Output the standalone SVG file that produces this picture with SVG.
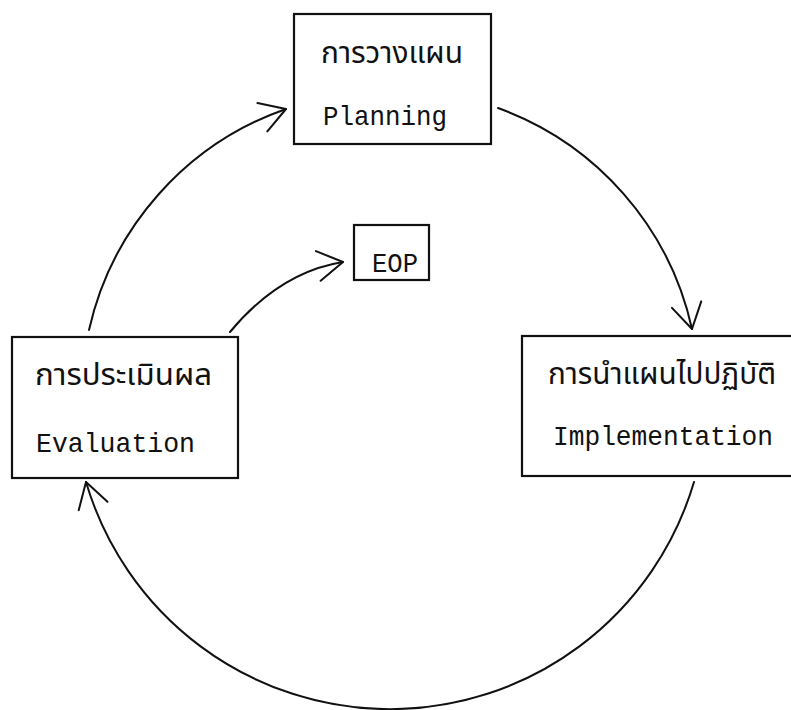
<svg xmlns="http://www.w3.org/2000/svg" width="791" height="710" viewBox="0 0 791 710">
<style>
.box{fill:none;stroke:#111;stroke-width:2.2}
.th{font-family:"Noto Sans Thai","Noto Sans Thai Looped","Loma","Garuda","Norasi","Tlwg Typo","Noto Sans",sans-serif;font-size:31px;fill:#111}
.en{font-family:"Liberation Mono","Courier New",monospace;font-size:28px;fill:#111}
.arc{fill:none;stroke:#111;stroke-width:2;stroke-linecap:round}
</style>
<defs>
<marker id="ah" markerUnits="userSpaceOnUse" viewBox="-30 -20 40 40" refX="0" refY="0" markerWidth="40" markerHeight="40" orient="auto" overflow="visible">
<path d="M -25 -15 L 0 0 L -25 15" fill="none" stroke="#111" stroke-width="2" stroke-linecap="round" stroke-linejoin="round"/>
</marker>
</defs>
<rect width="791" height="710" fill="#fff"/>
<g id="connectors">
<path class="arc" d="M 89 330 A 305 305 0 0 1 286 109" marker-end="url(#ah)"/>
<path class="arc" d="M 498 108 A 305 305 0 0 1 692 329" marker-end="url(#ah)"/>
<path class="arc" d="M 694 482 A 317 317 0 0 1 86 482" marker-end="url(#ah)"/>
<path class="arc" d="M 230 332 Q 280 272 343 262" marker-end="url(#ah)"/>
</g>
<g id="planning">
<rect class="box" x="294" y="14" width="197" height="130"/>
<text class="th" x="321" y="63" textLength="142" lengthAdjust="spacingAndGlyphs">การวางแผน</text>
<text class="en" x="323" y="125" textLength="124" lengthAdjust="spacingAndGlyphs">Planning</text>
</g>
<g id="eop">
<rect class="box" x="354" y="225" width="75" height="55"/>
<text class="en" x="372" y="272" textLength="46" lengthAdjust="spacingAndGlyphs">EOP</text>
</g>
<g id="evaluation">
<rect class="box" x="12" y="337" width="226" height="141"/>
<text class="th" x="35" y="385" textLength="177" lengthAdjust="spacingAndGlyphs">การประเมินผล</text>
<text class="en" x="36" y="452" textLength="159" lengthAdjust="spacingAndGlyphs">Evaluation</text>
</g>
<g id="implementation">
<rect class="box" x="522" y="336" width="290" height="140"/>
<text class="th" x="548" y="384" textLength="228" lengthAdjust="spacingAndGlyphs">การนำแผนไปปฏิบัติ</text>
<text class="en" x="553" y="445" textLength="220" lengthAdjust="spacingAndGlyphs">Implementation</text>
</g>
</svg>
